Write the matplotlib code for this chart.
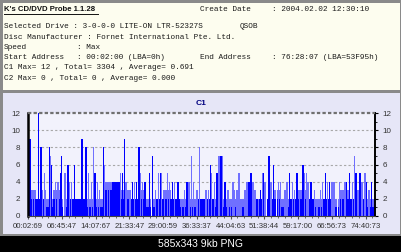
import matplotlib
matplotlib.use('Agg')
from matplotlib import pyplot as plt
from matplotlib.patches import Rectangle
from matplotlib.lines import Line2D

# Header info
title = "K's CD/DVD Probe 1.1.28"
create_date = ": 2004.02.02 12:30:10"
drive = "Selected Drive : 3-0-0-0 LITE-ON LTR-52327S"
firmware = "QSOB"
manufacturer = "Disc Manufacturer : Fornet International Pte. Ltd."
speed = ": Max"
start_addr = ": 00:02:00 (LBA=0h)"
end_addr = ": 76:28:07 (LBA=53F95h)"
c1_summary = "C1 Max= 12 , Total= 3304 , Average= 0.691"
c2_summary = "C2 Max= 0 , Total= 0 , Average= 0.000"

# x axis: one unit per tick label
time_labels = ['00:02:69', '06:45:47', '14:07:67', '21:33:47', '29:00:59', '36:33:37',
               '44:04:63', '51:38:44', '59:17:00', '66:56:73', '74:40:73']
x_end = 10.28

# background C1 level, one value per 0.25 unit
c1_base = [2, 2, 1, 2, 1, 2, 2, 1, 1, 3, 4, 2, 2, 2, 1, 2, 2, 2, 1, 1, 2,
           2, 1, 1, 1, 1, 1, 2, 2, 2, 1, 2, 2, 2, 1, 2, 1, 2, 2, 2, 1, 2]
c1_fill = [3, 2, 2, 3, 2, 2, 2, 2, 2, 4, 4, 3, 2, 3, 2, 2, 3, 2, 2, 2, 2,
           2, 2, 2, 2, 2, 2, 2, 2, 3, 2, 2, 3, 2, 2, 2, 2, 3, 2, 2, 2, 2]

# C1 spikes: position, value, drawn dark (1) or light (0)
spike_pos = [0.02, 0.06, 0.08, 0.14, 0.20, 0.32, 0.38, 0.41, 0.48, 0.51, 0.63, 0.67,
             0.70, 0.81, 0.89, 0.97, 0.99, 1.04, 1.10, 1.19, 1.22, 1.28, 1.37, 1.60,
             1.72, 1.80, 1.89, 1.95, 1.99, 2.05, 2.11, 2.23, 2.27, 2.35, 2.41, 2.74,
             2.80, 2.86, 2.90, 3.02, 3.10, 3.16, 3.22, 3.29, 3.33, 3.39, 3.47, 3.59,
             3.65, 3.69, 3.77, 3.87, 3.93, 3.96, 4.04, 4.14, 4.20, 4.28, 4.34, 4.44,
             4.54, 4.64, 4.71, 4.77, 4.85, 4.91, 5.01, 5.09, 5.19, 5.27, 5.35, 5.41,
             5.44, 5.52, 5.60, 5.66, 5.72, 5.76, 5.84, 5.92, 6.00, 6.07, 6.12, 6.19,
             6.25, 6.31, 6.43, 6.49, 6.55, 6.61, 6.67, 6.72, 6.83, 6.88, 6.94, 6.98,
             7.02, 7.08, 7.14, 7.20, 7.28, 7.36, 7.42, 7.49, 7.61, 7.67, 7.75, 7.83,
             7.89, 7.97, 8.05, 8.15, 8.20, 8.25, 8.30, 8.38, 8.48, 8.56, 8.66, 8.72,
             8.82, 8.88, 8.93, 9.01, 9.07, 9.17, 9.23, 9.29, 9.39, 9.43, 9.53, 9.61,
             9.68, 9.72, 9.78, 9.84, 9.90, 9.98, 10.02, 10.10, 10.18]
spike_val = [6, 9, 4, 3, 2, 12, 8, 3, 5, 3, 8, 7,
             6, 4, 4, 5, 7, 0, 5, 6, 4, 4, 6, 9,
             8, 5, 4, 8, 5, 4, 3, 8, 6, 4, 3, 5,
             5, 9, 4, 3, 4, 4, 4, 8, 5, 4, 4, 5,
             0, 7, 3, 5, 5, 5, 3, 5, 4, 4, 4, 4,
             2, 3, 4, 4, 7, 4, 3, 8, 2, 3, 3, 6,
             5, 4, 5, 7, 7, 7, 4, 3, 2, 4, 3, 3,
             5, 2, 3, 4, 4, 5, 4, 3, 2, 3, 5, 5,
             4, 0, 7, 4, 6, 0, 4, 4, 3, 4, 5, 4,
             3, 5, 3, 6, 5, 5, 4, 4, 3, 2, 3, 4,
             5, 4, 4, 4, 4, 0, 4, 3, 4, 4, 5, 4,
             7, 5, 3, 5, 4, 5, 4, 3, 4]
spike_dark = [1, 1, 0, 0, 0, 1, 1, 0, 0, 0, 1, 0,
              1, 0, 0, 1, 1, 0, 0, 1, 0, 0, 1, 1,
              1, 0, 0, 0, 1, 0, 0, 1, 0, 0, 0, 0,
              1, 1, 0, 0, 1, 0, 1, 1, 0, 0, 1, 1,
              0, 1, 0, 0, 1, 0, 0, 0, 0, 1, 0, 1,
              0, 0, 1, 0, 0, 0, 0, 0, 1, 0, 0, 1,
              0, 0, 1, 0, 1, 0, 1, 0, 0, 0, 0, 0,
              0, 0, 0, 0, 1, 1, 0, 0, 0, 1, 0, 1,
              0, 0, 1, 0, 1, 0, 0, 0, 0, 0, 1, 0,
              0, 1, 0, 1, 0, 0, 0, 1, 0, 0, 0, 0,
              1, 0, 1, 0, 0, 0, 0, 0, 0, 1, 1, 0,
              0, 1, 0, 1, 0, 0, 1, 0, 1]

W, H = 402, 252
DARK = '#0000ff'
LIGHT = '#7070ff'
PLOT_BG = '#f2f2fc'


def fx(x):
    return x / W


def fy(y):
    return 1 - y / H


fig = plt.figure(figsize=(W / 100, H / 100), dpi=100, facecolor='#8a8a8a')

# panels
fig.patches.append(Rectangle((fx(3), fy(90)), fx(397), 87 / H, transform=fig.transFigure,
                             facecolor='#fdfdef', edgecolor='none', zorder=0))
fig.patches.append(Rectangle((fx(3), fy(234)), fx(397), 141 / H, transform=fig.transFigure,
                             facecolor='#e6e6f7', edgecolor='none', zorder=0))
fig.patches.append(Rectangle((0, 0), 1, 16 / H, transform=fig.transFigure,
                             facecolor='black', edgecolor='none', zorder=0))

# header text
mono = dict(family='Liberation Mono', fontsize=5.6, color='#1a1a1a', va='center')
fig.text(fx(4), fy(9.3), title, family='Liberation Sans', fontsize=5.6,
         fontweight='bold', color='#111111', va='center')
fig.lines.append(Line2D([fx(4), fx(98)], [fy(13.5), fy(13.5)], transform=fig.transFigure,
                        color='#111111', lw=0.7))
fig.text(fx(200), fy(9.3), 'Create Date', **mono)
fig.text(fx(272), fy(9.3), create_date, **mono)
fig.text(fx(4), fy(26), drive, **mono)
fig.text(fx(240), fy(26), firmware, **mono)
fig.text(fx(4), fy(37.5), manufacturer, **mono)
fig.text(fx(4), fy(47.5), 'Speed', **mono)
fig.text(fx(77), fy(47.5), speed, **mono)
fig.text(fx(4), fy(57.5), 'Start Address', **mono)
fig.text(fx(77), fy(57.5), start_addr, **mono)
fig.text(fx(200), fy(57.5), 'End Address', **mono)
fig.text(fx(272), fy(57.5), end_addr, **mono)
fig.text(fx(4), fy(68), c1_summary, **mono)
fig.text(fx(4), fy(79), c2_summary, **mono)

fig.text(0.5, fy(244), '585x343 9kb PNG', family='Liberation Sans', fontsize=7.5,
         color='white', ha='center', va='center')

# chart
ax = fig.add_axes([fx(28), fy(216), (375 - 28) / W, (216 - 113) / H])
ax.set_zorder(5)
ax.set_facecolor(PLOT_BG)

seg_x = [i * 0.25 for i in range(len(c1_base))]
ax.bar(seg_x, c1_fill, width=0.25, align='edge', color=LIGHT, linewidth=0)
ax.bar(seg_x, c1_base, width=0.25, align='edge', color=DARK, linewidth=0)

light_x = [p for p, d in zip(spike_pos, spike_dark) if not d]
light_h = [v for v, d in zip(spike_val, spike_dark) if not d]
dark_x = [p for p, d in zip(spike_pos, spike_dark) if d]
dark_h = [v for v, d in zip(spike_val, spike_dark) if d]
ax.bar(light_x, light_h, width=0.04, color=LIGHT, linewidth=0)
ax.bar(dark_x, dark_h, width=0.04, color=DARK, linewidth=0)

# zero readings show as gaps in the base
gap_x = [p for p, v in zip(spike_pos, spike_val) if v == 0]
gap_h = [c1_fill[min(int(p / 0.25), len(c1_fill) - 1)] for p in gap_x]
ax.bar(gap_x, gap_h, width=0.03, color=PLOT_BG, linewidth=0)

ax.set_xlim(0, x_end)
ax.set_ylim(0, 12)

for y in range(2, 12, 2):
    ax.axhline(y, color='#a8a8a8', lw=0.8, ls=(0, (2, 2)), zorder=0.5)
ax.axhline(12, color='#707070', lw=1.6, ls=(0, (1.5, 1)), zorder=3, clip_on=False)

ax.set_xticks(range(len(time_labels)))
ax.set_xticklabels(time_labels)
ax.set_xticks([i * 0.2 for i in range(52)], minor=True)
ax.set_yticks(range(0, 13, 2))
ax.set_yticks(range(0, 13), minor=True)
ax.tick_params(axis='x', which='major', length=2, pad=3, labelsize=5.6,
               labelcolor='#333333', color='#555555')
ax.tick_params(axis='x', which='minor', length=1.5, color='#555555')
ax.tick_params(axis='y', which='both', left=False, right=True, labelleft=True,
               labelright=True, labelsize=5.8, labelcolor='#333333', pad=3)
ax.tick_params(axis='y', which='major', length=2.5, color='black')
ax.tick_params(axis='y', which='minor', length=1.5, color='black')
for lab in ax.get_xticklabels() + ax.get_yticklabels():
    lab.set_family('Liberation Sans')

ax.spines['top'].set_visible(False)
ax.spines['left'].set_linewidth(1.8)
ax.spines['right'].set_linewidth(1.4)
ax.spines['bottom'].set_linewidth(0.8)
ax.spines['bottom'].set_color('#444444')

ax.set_title('C1', fontsize=6, fontweight='bold', color='#000080', pad=6,
             family='Liberation Sans')

fig.savefig('out.png', dpi=100, facecolor=fig.get_facecolor())
